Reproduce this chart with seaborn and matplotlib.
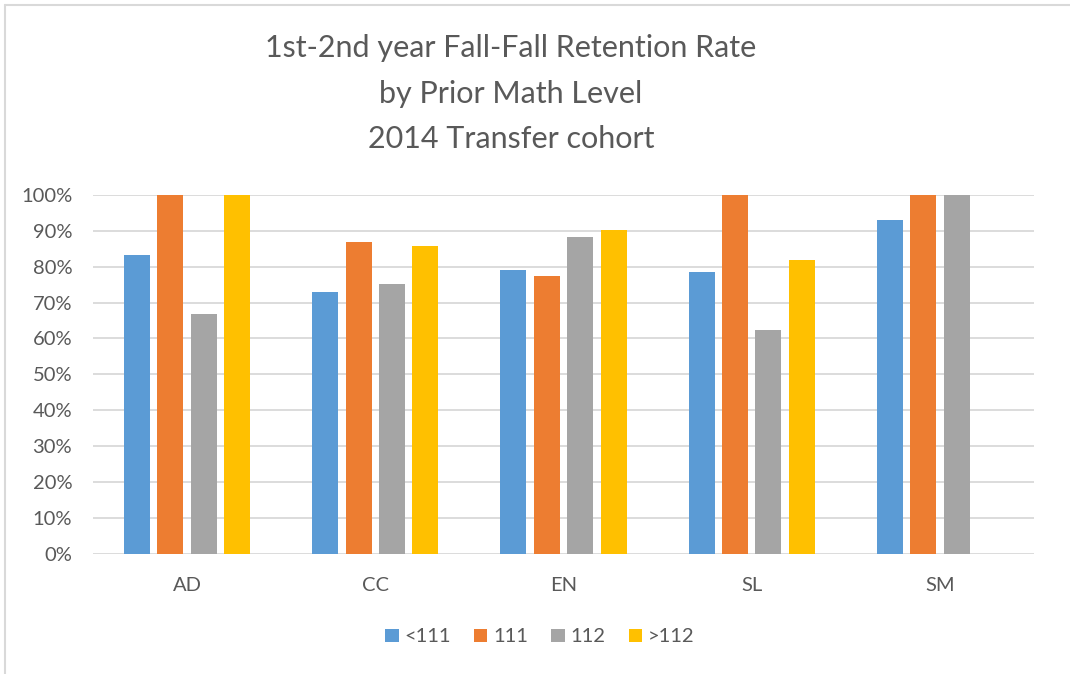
import matplotlib
matplotlib.use("Agg")
import matplotlib.pyplot as plt
from matplotlib.lines import Line2D
from matplotlib.ticker import PercentFormatter
import seaborn as sns
import pandas as pd

programs = ["AD", "CC", "EN", "SL", "SM"]
levels = ["<111", "111", "112", ">112"]
val_lt111 = [0.833, 0.730, 0.790, 0.786, 0.929]
val_111 = [1.000, 0.870, 0.774, 1.000, 1.000]
val_112 = [0.667, 0.751, 0.882, 0.625, 1.000]
val_gt112 = [1.000, 0.859, 0.902, 0.818, None]
colors = ["#5B9BD5", "#ED7D31", "#A5A5A5", "#FFC000"]
title_lines = ["1st-2nd year Fall-Fall Retention Rate", "by Prior Math Level", "2014 Transfer cohort"]

rows = []
for lvl, vals in zip(levels, [val_lt111, val_111, val_112, val_gt112]):
    for p, v in zip(programs, vals):
        if v is not None:
            rows.append({"program": p, "level": lvl, "rate": v})
df = pd.DataFrame(rows)

sns.set_style("white")
plt.rcParams["font.family"] = ["Lato", "DejaVu Sans"]
TXT = "#595959"

W, H = 1070, 674
fig = plt.figure(figsize=(W / 100, H / 100), dpi=100)
ax = fig.add_axes([93 / W, 1 - 553.7 / H, (1034 - 93) / W, (553.7 - 195) / H])

sns.barplot(data=df, x="program", y="rate", hue="level", order=programs,
            hue_order=levels, palette=colors, width=0.71, gap=0.22,
            saturation=1, edgecolor="none", ax=ax, legend=True)

ax.set_ylim(0, 1)
ax.set_xlim(-0.5, 4.5)
ax.set_yticks([i / 10 for i in range(11)])
ax.yaxis.set_major_formatter(PercentFormatter(1.0, decimals=0))
ax.grid(axis="y", color="#D9D9D9", linewidth=1.3)
ax.set_axisbelow(True)
for s in ax.spines.values():
    s.set_visible(False)
ax.tick_params(axis="both", length=0, colors=TXT, labelsize=14.5)
ax.tick_params(axis="y", pad=15)
ax.tick_params(axis="x", pad=17)
ax.set_xlabel("")
ax.set_ylabel("")

handles, labels = ax.get_legend_handles_labels()
ax.get_legend().remove()
fig.legend(handles, labels, loc="center", bbox_to_anchor=(540 / W, 1 - 637 / H),
           ncol=4, frameon=False, fontsize=14.5, labelcolor=TXT,
           handlelength=0.65, handleheight=0.65, handletextpad=0.3, columnspacing=1.15)

for i, (t, yb) in enumerate(zip(title_lines, [57, 103, 148])):
    fig.text(511 / W, 1 - yb / H, t, ha="center", va="baseline", fontsize=22, color=TXT)

fig.add_artist(Line2D([4.5 / W, 4.5 / W], [0, 1 - 5 / H], color="#D9D9D9", linewidth=1.5))
fig.add_artist(Line2D([4.5 / W, 1], [1 - 5 / H, 1 - 5 / H], color="#D9D9D9", linewidth=1.5))

fig.savefig("out.png", dpi=100)
